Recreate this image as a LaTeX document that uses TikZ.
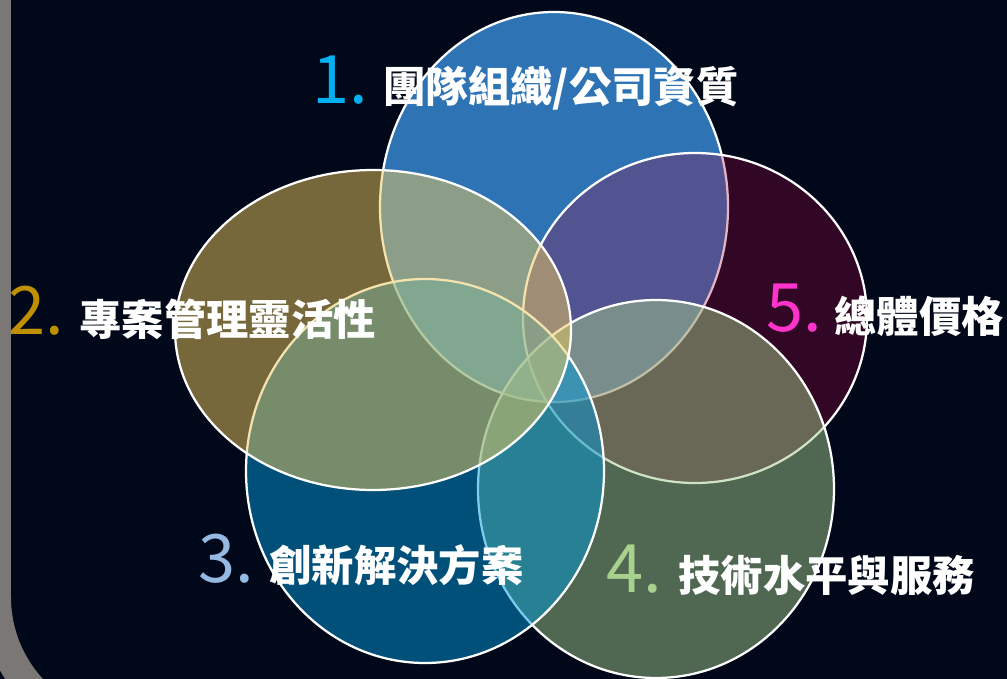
\documentclass[tikz,border=0pt]{standalone}
\usepackage{fontspec}
\newfontfamily\cjk{Noto Sans CJK TC}

\definecolor{bg}{RGB}{0,8,26}
\definecolor{rim}{RGB}{122,119,117}
\definecolor{fillA}{RGB}{46,116,181}
\definecolor{fillB}{RGB}{236,200,92}
\definecolor{fillC}{RGB}{0,152,216}
\definecolor{fillD}{RGB}{160,200,136}
\definecolor{fillE}{RGB}{167,7,63}
\definecolor{numA}{RGB}{0,176,240}
\definecolor{numB}{RGB}{191,144,0}
\definecolor{numC}{RGB}{150,185,226}
\definecolor{numD}{RGB}{169,209,142}
\definecolor{numE}{RGB}{255,51,204}

\begin{document}
\begin{tikzpicture}[x=0.02cm, y=-0.02cm,
	ring/.style={draw=white, line width=0.045cm},
	num/.style={anchor=base west, inner sep=0pt, font=\cjk\fontsize{38}{38}\selectfont},
	lbl/.style={anchor=base west, inner sep=0pt, text=white, font=\cjk\bfseries\fontsize{24.1}{24.1}\selectfont}]
	\useasboundingbox (0,0) rectangle (1007,679);
	\clip (0,0) rectangle (1007,679);
	\fill[bg] (0,0) rectangle (1007,679);
	\draw[rim, line width=0.6cm, rounded corners=2.72cm] (-4,-300) rectangle (1300,733);

	\path
		(554,207) coordinate (O1)
		(373,330) coordinate (O2)
		(425,471) coordinate (O3)
		(656,489) coordinate (O4)
		(695,318) coordinate (O5)
	;

	% back to front
	\draw[ring, fill=fillA] (O1) ellipse [x radius=174, y radius=195];
	\draw[ring, fill=fillE, fill opacity=.3] (O5) ellipse [x radius=172, y radius=165];
	\draw[ring, fill=fillD, fill opacity=.5] (O4) ellipse [x radius=178, y radius=189];
	\draw[ring, fill=fillC, fill opacity=.5] (O3) ellipse [x radius=179, y radius=192];
	\draw[ring, fill=fillB, fill opacity=.5] (O2) ellipse [x radius=198, y radius=160];

	\node[num, text=numA] (n1) at (312,104) {1.};
	\node[lbl] (t1) at (383,103) {團隊組織/公司資質};
	\node[num, text=numB] (n2) at (8,334) {2.};
	\node[lbl] (t2) at (79,335) {專案管理靈活性};
	\node[num, text=numC] (n3) at (198,582) {3.};
	\node[lbl] (t3) at (269,581) {創新解決方案};
	\node[num, text=numD] (n4) at (606,592) {4.};
	\node[lbl] (t4) at (678,591) {技術水平與服務};
	\node[num, text=numE] (n5) at (766,331) {5.};
	\node[lbl] (t5) at (834,332) {總體價格};
\end{tikzpicture}
\end{document}
